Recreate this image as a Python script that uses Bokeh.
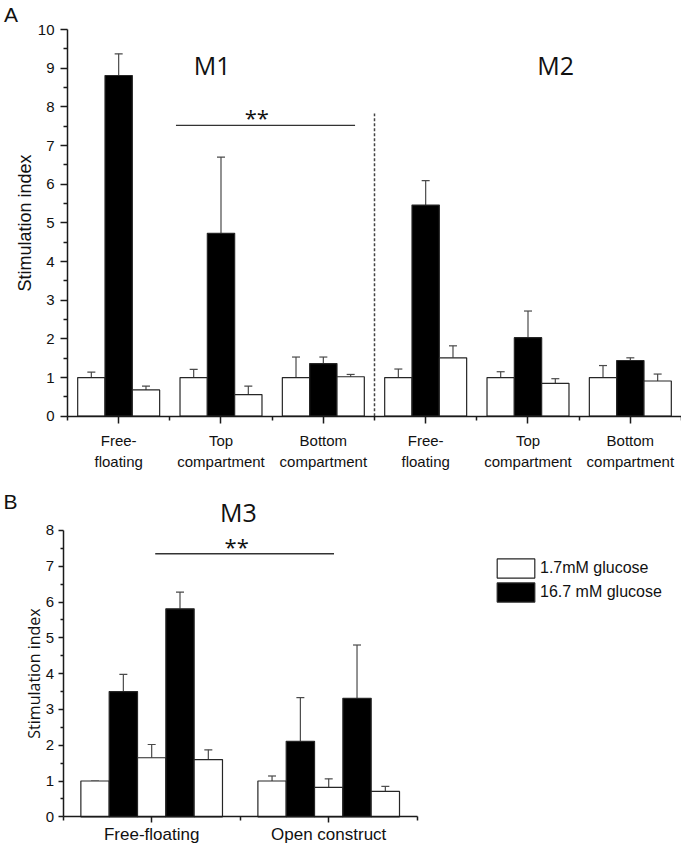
from bokeh.plotting import figure
from bokeh.layouts import column
from bokeh.models import (ColumnDataSource, FixedTicker, Whisker, TeeHead, Label,
                          Legend, LegendItem, Range1d)
from bokeh.embed import file_html
from bokeh.resources import INLINE

# ---------------- Panel A data ----------------
a_categories = ["Free-\nfloating", "Top\ncompartment", "Bottom\ncompartment",
                "Free-\nfloating", "Top\ncompartment", "Bottom\ncompartment"]
a_models = ["M1", "M2"]
a_low_first = [1.00, 1.00, 1.00, 1.00, 1.00, 1.00]
a_low_first_err = [0.14, 0.21, 0.53, 0.22, 0.15, 0.31]
a_high = [8.81, 4.73, 1.36, 5.46, 2.03, 1.44]
a_high_err = [0.56, 1.97, 0.17, 0.63, 0.69, 0.07]
a_low_second = [0.68, 0.56, 1.02, 1.51, 0.85, 0.91]
a_low_second_err = [0.10, 0.22, 0.06, 0.31, 0.12, 0.18]
a_y_ticks = [0, 1, 2, 3, 4, 5, 6, 7, 8, 9, 10]

# ---------------- Panel B data ----------------
b_categories = ["Free-floating", "Open construct"]
b_model = "M3"
b_low_1 = [1.00, 1.00]
b_low_1_err = [0.00, 0.14]
b_high_1 = [3.50, 2.11]
b_high_1_err = [0.48, 1.22]
b_low_2 = [1.65, 0.82]
b_low_2_err = [0.37, 0.24]
b_high_2 = [5.81, 3.31]
b_high_2_err = [0.47, 1.49]
b_low_3 = [1.60, 0.71]
b_low_3_err = [0.27, 0.14]
b_y_ticks = [0, 1, 2, 3, 4, 5, 6, 7, 8]
legend_labels = ["1.7mM glucose", "16.7 mM glucose"]

AXIS = "#1a1a1a"
EDGE = "#262626"
ERR = "#4a4a4a"
SANS = "Liberation Sans"
ROUND = "Open Sans"


def style_axes(p, tick_out, minor_out, label_size, standoff):
    for ax in (p.xaxis[0], p.yaxis[0]):
        ax.axis_line_color = AXIS
        ax.axis_line_width = 1.5
        ax.major_tick_line_color = AXIS
        ax.major_tick_line_width = 1.5
        ax.minor_tick_line_color = AXIS
        ax.minor_tick_line_width = 1.5
        ax.major_tick_in = 0
        ax.minor_tick_in = 0
        ax.major_tick_out = tick_out
        ax.minor_tick_out = minor_out
        ax.major_label_text_font = SANS
        ax.major_label_text_color = "#111111"
        ax.major_label_text_font_size = label_size
        ax.major_label_standoff = standoff
        ax.fixed_location = 0
    p.grid.visible = False
    p.outline_line_color = None


def add_bars(p, xs, tops, errs, color, width):
    src = ColumnDataSource(dict(x=xs, top=tops,
                                upper=[t + e for t, e in zip(tops, errs)]))
    r = p.vbar(x="x", top="top", bottom=0, width=width, source=src,
               fill_color=color, line_color=EDGE, line_width=1.2)
    w = Whisker(base="x", lower="top", upper="upper", source=src,
                dimension="height", line_color=ERR, line_width=1.2,
                upper_head=TeeHead(size=8, line_color=ERR, line_width=1.2),
                lower_head=None)
    p.add_layout(w)
    return r


def text(p, x, y, s, font, size, baseline="middle"):
    p.add_layout(Label(x=x, y=y, text=s, text_font=font, text_font_size=size,
                       text_align="center", text_baseline=baseline,
                       text_color="#111111"))


# ================= Panel A =================
# the frame covers the whole canvas; both axes are pinned at 0
pA = figure(frame_width=681, frame_height=484,
            x_range=Range1d(-0.6547, len(a_categories)), y_range=Range1d(-1.766, 10.75),
            min_border_left=0, min_border_right=0, min_border_top=0,
            min_border_bottom=0, output_backend="svg", toolbar_location=None)
style_axes(pA, 7, 4, "15px", 6)
pA.xaxis.major_label_standoff = 9
pA.yaxis.bounds = (0, 10)
pA.xaxis.bounds = (0, len(a_categories))

centers_a = [i + 0.5 for i in range(len(a_categories))]
bw_a = 0.267
add_bars(pA, [c - bw_a for c in centers_a], a_low_first, a_low_first_err, "white", bw_a)
add_bars(pA, centers_a, a_high, a_high_err, "black", bw_a)
add_bars(pA, [c + bw_a for c in centers_a], a_low_second, a_low_second_err, "white", bw_a)

pA.xaxis.ticker = FixedTicker(ticks=centers_a,
                              minor_ticks=list(range(len(a_categories) + 1)))
pA.xaxis.major_label_overrides = {c: lab for c, lab in zip(centers_a, a_categories)}
pA.xaxis.major_label_text_line_height = 1.2
pA.yaxis.ticker = FixedTicker(ticks=a_y_ticks,
                              minor_ticks=[t + 0.5 for t in a_y_ticks[:-1]])
pA.yaxis.axis_label = "Stimulation index"
pA.yaxis.axis_label_text_font = SANS
pA.yaxis.axis_label_text_font_style = "normal"
pA.yaxis.axis_label_text_font_size = "18px"
pA.yaxis.axis_label_text_color = "#111111"
pA.yaxis.axis_label_standoff = 0

# separator between M1 and M2
pA.line(x=[3, 3], y=[0, 7.83], line_color="#444444", line_width=1.5, line_dash="3 2")
# significance bar
pA.line(x=[1.06, 2.81], y=[7.52, 7.52], line_color="#333333", line_width=1.3)
text(pA, 1.85, 7.75, "**", ROUND, "22px", "alphabetic")
text(pA, 1.414, 9.09, a_models[0], ROUND, "25px")
text(pA, 4.77, 9.09, a_models[1], ROUND, "25px")
text(pA, -0.552, 10.39, "A", SANS, "21px")

# ================= Panel B =================
pB = figure(frame_width=681, frame_height=364,
            x_range=Range1d(-0.354, 3.493), y_range=Range1d(-0.886, 9.285),
            min_border_left=0, min_border_right=0, min_border_top=0,
            min_border_bottom=0, output_backend="svg", toolbar_location=None)
style_axes(pB, 5, 3, "15px", 4)
pB.xaxis.major_tick_out = 6
pB.xaxis.minor_tick_out = 4
pB.xaxis.major_label_standoff = 2
pB.xaxis.major_label_text_font_size = "17px"
pB.yaxis.bounds = (0, 8)
pB.xaxis.bounds = (0, len(b_categories))

centers_b = [i + 0.5 for i in range(len(b_categories))]
bw_b = 0.16
rl = add_bars(pB, [c - 2 * bw_b for c in centers_b], b_low_1, b_low_1_err, "white", bw_b)
rh = add_bars(pB, [c - bw_b for c in centers_b], b_high_1, b_high_1_err, "black", bw_b)
add_bars(pB, centers_b, b_low_2, b_low_2_err, "white", bw_b)
add_bars(pB, [c + bw_b for c in centers_b], b_high_2, b_high_2_err, "black", bw_b)
add_bars(pB, [c + 2 * bw_b for c in centers_b], b_low_3, b_low_3_err, "white", bw_b)

pB.xaxis.ticker = FixedTicker(ticks=centers_b,
                              minor_ticks=list(range(len(b_categories) + 1)))
pB.xaxis.major_label_overrides = {c: lab for c, lab in zip(centers_b, b_categories)}
pB.yaxis.ticker = FixedTicker(ticks=b_y_ticks,
                              minor_ticks=[t + 0.5 for t in b_y_ticks[:-1]])
pB.yaxis.axis_label = "Stimulation index"
pB.yaxis.axis_label_text_font = ROUND
pB.yaxis.axis_label_text_font_style = "normal"
pB.yaxis.axis_label_text_font_size = "16px"
pB.yaxis.axis_label_text_color = "#111111"
pB.yaxis.axis_label_standoff = -2

pB.line(x=[0.52, 1.53], y=[7.35, 7.35], line_color="#333333", line_width=1.3)
text(pB, 0.98, 7.57, "**", ROUND, "22px", "alphabetic")
text(pB, 0.99, 8.51, b_model, ROUND, "25px")
text(pB, -0.298, 8.81, "B", SANS, "21px")

legend = Legend(items=[LegendItem(label=legend_labels[0], renderers=[rl]),
                       LegendItem(label=legend_labels[1], renderers=[rh])],
                location=(492, 244), padding=0, margin=0, spacing=0,
                glyph_width=47, glyph_height=24, label_standoff=1,
                label_text_font=SANS, label_text_font_size="16px",
                label_text_color="#111111",
                border_line_color=None, background_fill_alpha=0)
pB.add_layout(legend)

layout = column(pA, pB)
open("out.html", "w").write(file_html(layout, INLINE))
